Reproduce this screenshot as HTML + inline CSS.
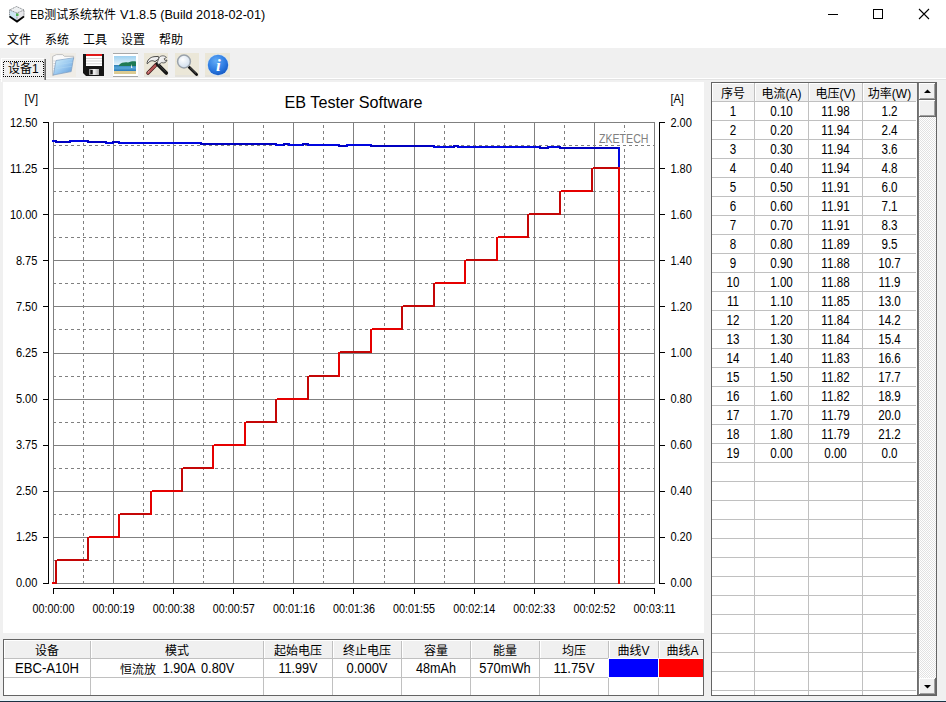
<!DOCTYPE html>
<html><head><meta charset="utf-8"><title>EB测试系统软件</title>
<style>html,body{margin:0;padding:0;width:946px;height:702px;overflow:hidden;background:#f0f0f0}svg{display:block}text{white-space:pre}</style>
</head><body>
<svg width="946" height="702" viewBox="0 0 946 702"><rect x="0" y="0" width="946" height="702" fill="#f0f0f0" />
<rect x="0" y="0" width="946" height="48" fill="#ffffff" />
<text y="19" font-size="12.3" fill="#000" font-family="Liberation Sans, Noto Sans CJK SC, sans-serif" xml:space="preserve"><tspan x="30.2" textLength="14" lengthAdjust="spacingAndGlyphs">EB</tspan><tspan x="44.2" font-size="12.2" textLength="71.8" lengthAdjust="spacingAndGlyphs">测试系统软件</tspan><tspan x="120" textLength="145.2" lengthAdjust="spacingAndGlyphs">V1.8.5 (Build 2018-02-01)</tspan></text>
<rect x="828" y="14" width="10" height="1" fill="#000" />
<rect x="873.5" y="9.5" width="9" height="9" fill="none" stroke="#000" stroke-width="1"/>
<path d="M919,9 L929,19 M929,9 L919,19" stroke="#000" stroke-width="1.1" fill="none"/>
<g>
<path d="M16.5,6.5 L24,10 L17,13 L9.5,10 Z" fill="#eef0f2"/>
<path d="M9.5,10 L17,13 L17,21.5 L9.5,17 Z" fill="#cde6f2"/>
<path d="M17,13 L24,10 L24,17 L17,21.5 Z" fill="#e6e6ea"/>
<rect x="16" y="13.5" width="2.5" height="2.5" fill="#44cc44"/>
<path d="M16.5,6.5 L24,10 L24,17 M9.5,17 L9.5,10 L16.5,6.5 M9.5,10 L17,13 L24,10 M17,13 L17,21" stroke="#707478" stroke-width="0.8" fill="none" stroke-dasharray="1.2,0.6"/>
<path d="M9.6,16.6 L17,21.6 L23.9,16.6" stroke="#000" stroke-width="1.8" fill="none"/>
</g>
<text x="7" y="44" font-size="12" text-anchor="start" fill="#000" font-family="Liberation Sans, Noto Sans CJK SC, sans-serif" >文件</text>
<text x="45" y="44" font-size="12" text-anchor="start" fill="#000" font-family="Liberation Sans, Noto Sans CJK SC, sans-serif" >系统</text>
<text x="83" y="44" font-size="12" text-anchor="start" fill="#000" font-family="Liberation Sans, Noto Sans CJK SC, sans-serif" >工具</text>
<text x="121" y="44" font-size="12" text-anchor="start" fill="#000" font-family="Liberation Sans, Noto Sans CJK SC, sans-serif" >设置</text>
<text x="159" y="44" font-size="12" text-anchor="start" fill="#000" font-family="Liberation Sans, Noto Sans CJK SC, sans-serif" >帮助</text>
<rect x="0" y="78" width="946" height="1" fill="#ffffff" />
<rect x="0" y="79" width="946" height="1" fill="#e3e3e3" />
<rect x="1" y="58" width="44" height="24" fill="#f0f0f0" />
<rect x="1" y="58" width="43" height="1" fill="#ffffff" />
<rect x="1" y="58" width="1" height="24" fill="#ffffff" />
<rect x="44" y="59" width="1" height="21" fill="#a0a0a0" />
<rect x="45" y="59" width="1" height="21" fill="#696969" />
<path d="M3,62h1v1h-1z M3,64h1v1h-1z M3,66h1v1h-1z M3,68h1v1h-1z M3,70h1v1h-1z M3,72h1v1h-1z M3,74h1v1h-1z M3,76h1v1h-1z M4,61h1v1h-1z M5,76h1v1h-1z M6,61h1v1h-1z M7,76h1v1h-1z M8,61h1v1h-1z M9,76h1v1h-1z M10,61h1v1h-1z M11,76h1v1h-1z M12,61h1v1h-1z M13,76h1v1h-1z M14,61h1v1h-1z M15,76h1v1h-1z M16,61h1v1h-1z M17,76h1v1h-1z M18,61h1v1h-1z M19,76h1v1h-1z M20,61h1v1h-1z M21,76h1v1h-1z M22,61h1v1h-1z M23,76h1v1h-1z M24,61h1v1h-1z M25,76h1v1h-1z M26,61h1v1h-1z M27,76h1v1h-1z M28,61h1v1h-1z M29,76h1v1h-1z M30,61h1v1h-1z M31,76h1v1h-1z M32,61h1v1h-1z M33,76h1v1h-1z M34,61h1v1h-1z M35,76h1v1h-1z M36,61h1v1h-1z M37,76h1v1h-1z M38,61h1v1h-1z M39,76h1v1h-1z M40,61h1v1h-1z M41,76h1v1h-1z M42,61h1v1h-1z M43,62h1v1h-1z M43,64h1v1h-1z M43,66h1v1h-1z M43,68h1v1h-1z M43,70h1v1h-1z M43,72h1v1h-1z M43,74h1v1h-1z M43,76h1v1h-1z" fill="#000"/>
<text x="8" y="73" font-size="12" text-anchor="start" fill="#000" font-family="Liberation Sans, Noto Sans CJK SC, sans-serif" >设备1</text>
<defs>
<linearGradient id="fold" x1="0" y1="0" x2="1" y2="1"><stop offset="0" stop-color="#d4f2fb"/><stop offset="0.5" stop-color="#9ccaf0"/><stop offset="1" stop-color="#5c98d8"/></linearGradient>
<linearGradient id="sky" x1="0" y1="0" x2="0" y2="1"><stop offset="0" stop-color="#9dd0f0"/><stop offset="1" stop-color="#e6f3fa"/></linearGradient>
<linearGradient id="sea" x1="0" y1="0" x2="0" y2="1"><stop offset="0" stop-color="#2f7fb8"/><stop offset="0.5" stop-color="#58a8d8"/><stop offset="1" stop-color="#2a78b8"/></linearGradient>
<linearGradient id="shut" x1="0" y1="0" x2="1" y2="0"><stop offset="0" stop-color="#8a8a8a"/><stop offset="0.5" stop-color="#f4f4f4"/><stop offset="1" stop-color="#a8a8a8"/></linearGradient>
<radialGradient id="lens" cx="0.4" cy="0.35" r="0.7"><stop offset="0" stop-color="#ffffff"/><stop offset="1" stop-color="#cddcec"/></radialGradient>
<radialGradient id="info" cx="0.4" cy="0.3" r="0.8"><stop offset="0" stop-color="#62acf6"/><stop offset="0.6" stop-color="#2a78e0"/><stop offset="1" stop-color="#1050b8"/></radialGradient>
<linearGradient id="steel" x1="0" y1="0" x2="1" y2="1"><stop offset="0" stop-color="#ffffff"/><stop offset="0.6" stop-color="#e8e8e8"/><stop offset="1" stop-color="#a8a8a8"/></linearGradient>
</defs>
<!-- folder -->
<rect x="50" y="53" width="26" height="24" fill="#efece6"/>
<path d="M52.6,56.5 L56.5,54.6 L62.5,54.6 L64.5,56.3 L73.6,56.3 L73.6,59 L53.2,75.6 L52.6,75.6 Z" fill="#fafafa" stroke="#b4b4b4" stroke-width="0.8"/>
<path d="M53.4,61 L55.6,61 M53.4,63.5 L55.4,63.5 M53.4,66 L55.2,66 M53.4,68.5 L55,68.5 M53.4,71 L54.8,71" stroke="#c4c4c4" stroke-width="0.7"/>
<path d="M56,60.5 L73.6,57.8 L71.2,71.6 L53.4,75 Z" fill="url(#fold)" stroke="#7c9cc0" stroke-width="0.7"/>
<path d="M60,60.5 L73,58.6 M58,64.5 L72.4,62.4 M57,68.5 L71.8,66.3" stroke="#b8dcf4" stroke-width="0.6" opacity="0.7"/>
<!-- floppy -->
<path d="M83,54 L104,54 L104,76 L86,76 L83,73 Z" fill="#161616"/>
<rect x="86" y="54" width="16" height="2" fill="#e01818"/>
<rect x="86" y="56" width="16" height="10" fill="#ffffff"/>
<rect x="86" y="58" width="16" height="1" fill="#d4d4d4"/>
<rect x="86" y="60.5" width="16" height="1" fill="#d4d4d4"/>
<rect x="86" y="63.3" width="16" height="1" fill="#d4d4d4"/>
<rect x="89" y="69" width="10" height="6" fill="url(#shut)"/>
<rect x="90.3" y="70" width="2.4" height="4.2" fill="#111"/>
<!-- picture -->
<rect x="113" y="53" width="25" height="1" fill="#a8a8a8"/>
<rect x="113" y="54" width="25" height="22" fill="#ffffff"/>
<rect x="113" y="76" width="25" height="1" fill="#a8a8a8"/>
<rect x="114" y="56" width="22" height="9" fill="url(#sky)"/>
<rect x="114" y="65" width="22" height="6" fill="url(#sea)"/>
<path d="M119,65 C121,62.5 125,62 128,62.5 C131,61.5 133,61 136,61.5 L136,66 L119,66 Z" fill="#1f7a54"/>
<rect x="114" y="71" width="22" height="3" fill="#dccb92"/>
<path d="M131,64 L131,68 L132.5,68 Z" fill="#f4f4f4"/>
<!-- tools -->
<rect x="144" y="53" width="24" height="22" fill="#ebe7d8"/>
<rect x="144" y="75" width="24" height="2" fill="#e4e2dc"/>
<path d="M148,73 L156.5,64.3" stroke="#3a1a1a" stroke-width="3.6" stroke-linecap="round"/>
<path d="M148,73 L156.5,64.3" stroke="#b45454" stroke-width="2.4" stroke-linecap="round"/>
<path d="M148.2,72.2 L149.4,71" stroke="#f0d0d0" stroke-width="1"/>
<path d="M166.3,73 L157.3,64" stroke="#151515" stroke-width="3.6" stroke-linecap="round"/>
<path d="M165.5,71.8 L158,64.3" stroke="#505050" stroke-width="0.8"/>
<path d="M147,63.5 C147.3,60 150,57.3 154,56.7 L158.3,56.4 L159.3,58.6 L157,60.2 L155,61.6 C152,59.8 149.5,61 147.6,63.6 Z" fill="url(#steel)" stroke="#222" stroke-width="0.8"/>
<path d="M159.3,57.2 C161,55.4 164.6,55.3 166.5,57.4 L164.1,58.8 L165,60.4 L167,60 C166.6,62.5 164,63.6 161.6,62.6 L158.6,64.6 L157.2,62.8 Z" fill="url(#steel)" stroke="#333" stroke-width="0.7"/>
<!-- magnifier -->
<rect x="175" y="53" width="24" height="22" fill="#ebe7d8"/>
<rect x="175" y="75" width="24" height="2" fill="#e4e2dc"/>
<path d="M189.2,67.2 L196.6,74.4" stroke="#111" stroke-width="2.8" stroke-linecap="round"/>
<path d="M190,67.6 L196,73.4" stroke="#707070" stroke-width="0.7"/>
<circle cx="184" cy="61.5" r="6.4" fill="url(#lens)" stroke="#9aa2aa" stroke-width="1.5"/>
<!-- info -->
<rect x="205" y="53" width="25" height="22" fill="#ebe7d8"/>
<rect x="205" y="75" width="25" height="2" fill="#e4e2dc"/>
<circle cx="218" cy="65" r="10.8" fill="#d4e4f4"/>
<circle cx="218" cy="65" r="10.2" fill="url(#info)"/>
<text x="218.3" y="71.3" font-size="17" font-weight="bold" font-style="italic" fill="#ffffff" text-anchor="middle" font-family="Liberation Serif, serif">i</text>

<rect x="3" y="82" width="701" height="551" fill="#ffffff" />
<path d="M83.5,584 L83.5,122" stroke="#808080" stroke-width="1" stroke-dasharray="3,3" fill="none"/>
<path d="M143.5,584 L143.5,122" stroke="#808080" stroke-width="1" stroke-dasharray="3,3" fill="none"/>
<path d="M203.5,584 L203.5,122" stroke="#808080" stroke-width="1" stroke-dasharray="3,3" fill="none"/>
<path d="M263.5,584 L263.5,122" stroke="#808080" stroke-width="1" stroke-dasharray="3,3" fill="none"/>
<path d="M323.5,584 L323.5,122" stroke="#808080" stroke-width="1" stroke-dasharray="3,3" fill="none"/>
<path d="M384.5,584 L384.5,122" stroke="#808080" stroke-width="1" stroke-dasharray="3,3" fill="none"/>
<path d="M444.5,584 L444.5,122" stroke="#808080" stroke-width="1" stroke-dasharray="3,3" fill="none"/>
<path d="M504.5,584 L504.5,122" stroke="#808080" stroke-width="1" stroke-dasharray="3,3" fill="none"/>
<path d="M564.5,584 L564.5,122" stroke="#808080" stroke-width="1" stroke-dasharray="3,3" fill="none"/>
<path d="M624.5,584 L624.5,122" stroke="#808080" stroke-width="1" stroke-dasharray="3,3" fill="none"/>
<path d="M53,145.5 L655,145.5" stroke="#808080" stroke-width="1" stroke-dasharray="3,3" fill="none"/>
<path d="M53,191.5 L655,191.5" stroke="#808080" stroke-width="1" stroke-dasharray="3,3" fill="none"/>
<path d="M53,237.5 L655,237.5" stroke="#808080" stroke-width="1" stroke-dasharray="3,3" fill="none"/>
<path d="M53,283.5 L655,283.5" stroke="#808080" stroke-width="1" stroke-dasharray="3,3" fill="none"/>
<path d="M53,329.5 L655,329.5" stroke="#808080" stroke-width="1" stroke-dasharray="3,3" fill="none"/>
<path d="M53,376.5 L655,376.5" stroke="#808080" stroke-width="1" stroke-dasharray="3,3" fill="none"/>
<path d="M53,422.5 L655,422.5" stroke="#808080" stroke-width="1" stroke-dasharray="3,3" fill="none"/>
<path d="M53,468.5 L655,468.5" stroke="#808080" stroke-width="1" stroke-dasharray="3,3" fill="none"/>
<path d="M53,514.5 L655,514.5" stroke="#808080" stroke-width="1" stroke-dasharray="3,3" fill="none"/>
<path d="M53,560.5 L655,560.5" stroke="#808080" stroke-width="1" stroke-dasharray="3,3" fill="none"/>
<rect x="53" y="122" width="1" height="462" fill="#808080" />
<rect x="113" y="122" width="1" height="462" fill="#808080" />
<rect x="173" y="122" width="1" height="462" fill="#808080" />
<rect x="233" y="122" width="1" height="462" fill="#808080" />
<rect x="293" y="122" width="1" height="462" fill="#808080" />
<rect x="353" y="122" width="1" height="462" fill="#808080" />
<rect x="414" y="122" width="1" height="462" fill="#808080" />
<rect x="474" y="122" width="1" height="462" fill="#808080" />
<rect x="534" y="122" width="1" height="462" fill="#808080" />
<rect x="594" y="122" width="1" height="462" fill="#808080" />
<rect x="654" y="122" width="1" height="462" fill="#808080" />
<rect x="53" y="122" width="602" height="1" fill="#808080" />
<rect x="53" y="168" width="602" height="1" fill="#808080" />
<rect x="53" y="214" width="602" height="1" fill="#808080" />
<rect x="53" y="260" width="602" height="1" fill="#808080" />
<rect x="53" y="306" width="602" height="1" fill="#808080" />
<rect x="53" y="353" width="602" height="1" fill="#808080" />
<rect x="53" y="399" width="602" height="1" fill="#808080" />
<rect x="53" y="445" width="602" height="1" fill="#808080" />
<rect x="53" y="491" width="602" height="1" fill="#808080" />
<rect x="53" y="537" width="602" height="1" fill="#808080" />
<rect x="53" y="583" width="602" height="1" fill="#808080" />
<rect x="597" y="132" width="54" height="13" fill="#ffffff" />
<text x="599" y="143" font-size="12.2" text-anchor="start" fill="#808080" font-family="Liberation Sans, Arial, sans-serif" textLength="49.5" lengthAdjust="spacingAndGlyphs">ZKETECH</text>
<rect x="48" y="122" width="1" height="462" fill="#000" />
<rect x="659" y="122" width="1" height="462" fill="#000" />
<rect x="53" y="588" width="602" height="1" fill="#000" />
<rect x="43" y="122" width="6" height="1" fill="#000" />
<rect x="659" y="122" width="6" height="1" fill="#000" />
<rect x="43" y="168" width="6" height="1" fill="#000" />
<rect x="659" y="168" width="6" height="1" fill="#000" />
<rect x="43" y="214" width="6" height="1" fill="#000" />
<rect x="659" y="214" width="6" height="1" fill="#000" />
<rect x="43" y="260" width="6" height="1" fill="#000" />
<rect x="659" y="260" width="6" height="1" fill="#000" />
<rect x="43" y="306" width="6" height="1" fill="#000" />
<rect x="659" y="306" width="6" height="1" fill="#000" />
<rect x="43" y="352" width="6" height="1" fill="#000" />
<rect x="659" y="352" width="6" height="1" fill="#000" />
<rect x="43" y="399" width="6" height="1" fill="#000" />
<rect x="659" y="399" width="6" height="1" fill="#000" />
<rect x="43" y="445" width="6" height="1" fill="#000" />
<rect x="659" y="445" width="6" height="1" fill="#000" />
<rect x="43" y="491" width="6" height="1" fill="#000" />
<rect x="659" y="491" width="6" height="1" fill="#000" />
<rect x="43" y="537" width="6" height="1" fill="#000" />
<rect x="659" y="537" width="6" height="1" fill="#000" />
<rect x="43" y="583" width="6" height="1" fill="#000" />
<rect x="659" y="583" width="6" height="1" fill="#000" />
<rect x="53" y="588" width="1" height="6" fill="#000" />
<rect x="113" y="588" width="1" height="6" fill="#000" />
<rect x="173" y="588" width="1" height="6" fill="#000" />
<rect x="233" y="588" width="1" height="6" fill="#000" />
<rect x="293" y="588" width="1" height="6" fill="#000" />
<rect x="353" y="588" width="1" height="6" fill="#000" />
<rect x="414" y="588" width="1" height="6" fill="#000" />
<rect x="474" y="588" width="1" height="6" fill="#000" />
<rect x="534" y="588" width="1" height="6" fill="#000" />
<rect x="594" y="588" width="1" height="6" fill="#000" />
<rect x="654" y="588" width="1" height="6" fill="#000" />
<text x="37.4" y="127" font-size="12.6" text-anchor="end" fill="#000" font-family="Liberation Sans, Arial, sans-serif" textLength="27.5" lengthAdjust="spacingAndGlyphs">12.50</text>
<text x="670.4" y="127" font-size="12.6" text-anchor="start" fill="#000" font-family="Liberation Sans, Arial, sans-serif" textLength="21.5" lengthAdjust="spacingAndGlyphs">2.00</text>
<text x="37.4" y="173" font-size="12.6" text-anchor="end" fill="#000" font-family="Liberation Sans, Arial, sans-serif" textLength="27.5" lengthAdjust="spacingAndGlyphs">11.25</text>
<text x="670.4" y="173" font-size="12.6" text-anchor="start" fill="#000" font-family="Liberation Sans, Arial, sans-serif" textLength="21.5" lengthAdjust="spacingAndGlyphs">1.80</text>
<text x="37.4" y="219" font-size="12.6" text-anchor="end" fill="#000" font-family="Liberation Sans, Arial, sans-serif" textLength="27.5" lengthAdjust="spacingAndGlyphs">10.00</text>
<text x="670.4" y="219" font-size="12.6" text-anchor="start" fill="#000" font-family="Liberation Sans, Arial, sans-serif" textLength="21.5" lengthAdjust="spacingAndGlyphs">1.60</text>
<text x="37.4" y="265" font-size="12.6" text-anchor="end" fill="#000" font-family="Liberation Sans, Arial, sans-serif" textLength="21.5" lengthAdjust="spacingAndGlyphs">8.75</text>
<text x="670.4" y="265" font-size="12.6" text-anchor="start" fill="#000" font-family="Liberation Sans, Arial, sans-serif" textLength="21.5" lengthAdjust="spacingAndGlyphs">1.40</text>
<text x="37.4" y="311" font-size="12.6" text-anchor="end" fill="#000" font-family="Liberation Sans, Arial, sans-serif" textLength="21.5" lengthAdjust="spacingAndGlyphs">7.50</text>
<text x="670.4" y="311" font-size="12.6" text-anchor="start" fill="#000" font-family="Liberation Sans, Arial, sans-serif" textLength="21.5" lengthAdjust="spacingAndGlyphs">1.20</text>
<text x="37.4" y="357" font-size="12.6" text-anchor="end" fill="#000" font-family="Liberation Sans, Arial, sans-serif" textLength="21.5" lengthAdjust="spacingAndGlyphs">6.25</text>
<text x="670.4" y="357" font-size="12.6" text-anchor="start" fill="#000" font-family="Liberation Sans, Arial, sans-serif" textLength="21.5" lengthAdjust="spacingAndGlyphs">1.00</text>
<text x="37.4" y="403" font-size="12.6" text-anchor="end" fill="#000" font-family="Liberation Sans, Arial, sans-serif" textLength="21.5" lengthAdjust="spacingAndGlyphs">5.00</text>
<text x="670.4" y="403" font-size="12.6" text-anchor="start" fill="#000" font-family="Liberation Sans, Arial, sans-serif" textLength="21.5" lengthAdjust="spacingAndGlyphs">0.80</text>
<text x="37.4" y="449" font-size="12.6" text-anchor="end" fill="#000" font-family="Liberation Sans, Arial, sans-serif" textLength="21.5" lengthAdjust="spacingAndGlyphs">3.75</text>
<text x="670.4" y="449" font-size="12.6" text-anchor="start" fill="#000" font-family="Liberation Sans, Arial, sans-serif" textLength="21.5" lengthAdjust="spacingAndGlyphs">0.60</text>
<text x="37.4" y="495" font-size="12.6" text-anchor="end" fill="#000" font-family="Liberation Sans, Arial, sans-serif" textLength="21.5" lengthAdjust="spacingAndGlyphs">2.50</text>
<text x="670.4" y="495" font-size="12.6" text-anchor="start" fill="#000" font-family="Liberation Sans, Arial, sans-serif" textLength="21.5" lengthAdjust="spacingAndGlyphs">0.40</text>
<text x="37.4" y="541" font-size="12.6" text-anchor="end" fill="#000" font-family="Liberation Sans, Arial, sans-serif" textLength="21.5" lengthAdjust="spacingAndGlyphs">1.25</text>
<text x="670.4" y="541" font-size="12.6" text-anchor="start" fill="#000" font-family="Liberation Sans, Arial, sans-serif" textLength="21.5" lengthAdjust="spacingAndGlyphs">0.20</text>
<text x="37.4" y="587" font-size="12.6" text-anchor="end" fill="#000" font-family="Liberation Sans, Arial, sans-serif" textLength="21.5" lengthAdjust="spacingAndGlyphs">0.00</text>
<text x="670.4" y="587" font-size="12.6" text-anchor="start" fill="#000" font-family="Liberation Sans, Arial, sans-serif" textLength="21.5" lengthAdjust="spacingAndGlyphs">0.00</text>
<text x="53.5" y="613" font-size="12.6" text-anchor="middle" fill="#000" font-family="Liberation Sans, Arial, sans-serif" textLength="42" lengthAdjust="spacingAndGlyphs">00:00:00</text>
<text x="113.6" y="613" font-size="12.6" text-anchor="middle" fill="#000" font-family="Liberation Sans, Arial, sans-serif" textLength="42" lengthAdjust="spacingAndGlyphs">00:00:19</text>
<text x="173.7" y="613" font-size="12.6" text-anchor="middle" fill="#000" font-family="Liberation Sans, Arial, sans-serif" textLength="42" lengthAdjust="spacingAndGlyphs">00:00:38</text>
<text x="233.8" y="613" font-size="12.6" text-anchor="middle" fill="#000" font-family="Liberation Sans, Arial, sans-serif" textLength="42" lengthAdjust="spacingAndGlyphs">00:00:57</text>
<text x="293.9" y="613" font-size="12.6" text-anchor="middle" fill="#000" font-family="Liberation Sans, Arial, sans-serif" textLength="42" lengthAdjust="spacingAndGlyphs">00:01:16</text>
<text x="354.0" y="613" font-size="12.6" text-anchor="middle" fill="#000" font-family="Liberation Sans, Arial, sans-serif" textLength="42" lengthAdjust="spacingAndGlyphs">00:01:36</text>
<text x="414.1" y="613" font-size="12.6" text-anchor="middle" fill="#000" font-family="Liberation Sans, Arial, sans-serif" textLength="42" lengthAdjust="spacingAndGlyphs">00:01:55</text>
<text x="474.2" y="613" font-size="12.6" text-anchor="middle" fill="#000" font-family="Liberation Sans, Arial, sans-serif" textLength="42" lengthAdjust="spacingAndGlyphs">00:02:14</text>
<text x="534.3" y="613" font-size="12.6" text-anchor="middle" fill="#000" font-family="Liberation Sans, Arial, sans-serif" textLength="42" lengthAdjust="spacingAndGlyphs">00:02:33</text>
<text x="594.4" y="613" font-size="12.6" text-anchor="middle" fill="#000" font-family="Liberation Sans, Arial, sans-serif" textLength="42" lengthAdjust="spacingAndGlyphs">00:02:52</text>
<text x="654.5" y="613" font-size="12.6" text-anchor="middle" fill="#000" font-family="Liberation Sans, Arial, sans-serif" textLength="42" lengthAdjust="spacingAndGlyphs">00:03:11</text>
<text x="24.6" y="103" font-size="12.6" text-anchor="start" fill="#000" font-family="Liberation Sans, Arial, sans-serif" textLength="13.5" lengthAdjust="spacingAndGlyphs">[V]</text>
<text x="670.4" y="103" font-size="12.6" text-anchor="start" fill="#000" font-family="Liberation Sans, Arial, sans-serif" textLength="13.5" lengthAdjust="spacingAndGlyphs">[A]</text>
<text x="353.6" y="108" font-size="16.4" text-anchor="middle" fill="#000" font-family="Liberation Sans, Arial, sans-serif" textLength="138" lengthAdjust="spacingAndGlyphs">EB Tester Software</text>
<rect x="52" y="140" width="5" height="2" fill="#0006e0"/>
<rect x="55" y="140" width="2" height="3" fill="#0000c0"/>
<rect x="55" y="141" width="16" height="2" fill="#0000c0"/>
<rect x="69" y="140" width="2" height="3" fill="#0000c0"/>
<rect x="69" y="140" width="20" height="2" fill="#0006e0"/>
<rect x="87" y="140" width="2" height="3" fill="#0000c0"/>
<rect x="87" y="141" width="20" height="2" fill="#0000c0"/>
<rect x="105" y="141" width="2" height="3" fill="#0000c0"/>
<rect x="105" y="142" width="9" height="2" fill="#0006e0"/>
<rect x="112" y="141" width="2" height="3" fill="#0006e0"/>
<rect x="112" y="141" width="8" height="2" fill="#0000c0"/>
<rect x="118" y="141" width="2" height="3" fill="#0006e0"/>
<rect x="118" y="142" width="33" height="2" fill="#0006e0"/>
<rect x="149" y="142" width="53" height="2" fill="#0006e0"/>
<rect x="200" y="142" width="2" height="3" fill="#0006e0"/>
<rect x="200" y="143" width="77" height="2" fill="#0000c0"/>
<rect x="275" y="143" width="2" height="3" fill="#0000c0"/>
<rect x="275" y="144" width="10" height="2" fill="#0006e0"/>
<rect x="283" y="143" width="2" height="3" fill="#0000c0"/>
<rect x="283" y="143" width="7" height="2" fill="#0000c0"/>
<rect x="288" y="143" width="2" height="3" fill="#0006e0"/>
<rect x="288" y="144" width="16" height="2" fill="#0006e0"/>
<rect x="302" y="143" width="2" height="3" fill="#0006e0"/>
<rect x="302" y="143" width="7" height="2" fill="#0000c0"/>
<rect x="307" y="143" width="2" height="3" fill="#0000c0"/>
<rect x="307" y="144" width="33" height="2" fill="#0006e0"/>
<rect x="338" y="144" width="2" height="3" fill="#0006e0"/>
<rect x="338" y="145" width="10" height="2" fill="#0000c0"/>
<rect x="346" y="144" width="2" height="3" fill="#0006e0"/>
<rect x="346" y="144" width="26" height="2" fill="#0006e0"/>
<rect x="370" y="144" width="2" height="3" fill="#0006e0"/>
<rect x="370" y="145" width="65" height="2" fill="#0000c0"/>
<rect x="433" y="145" width="2" height="3" fill="#0000c0"/>
<rect x="433" y="146" width="22" height="2" fill="#0006e0"/>
<rect x="453" y="145" width="2" height="3" fill="#0000c0"/>
<rect x="453" y="145" width="6" height="2" fill="#0000c0"/>
<rect x="457" y="145" width="2" height="3" fill="#0000c0"/>
<rect x="457" y="146" width="84" height="2" fill="#0006e0"/>
<rect x="539" y="146" width="2" height="3" fill="#0000c0"/>
<rect x="539" y="147" width="10" height="2" fill="#0000c0"/>
<rect x="547" y="146" width="2" height="3" fill="#0000c0"/>
<rect x="547" y="146" width="14" height="2" fill="#0006e0"/>
<rect x="559" y="146" width="2" height="3" fill="#0000c0"/>
<rect x="559" y="147" width="61" height="2" fill="#0000c0"/>
<rect x="618" y="147" width="2" height="437" fill="#0006e0"/>
<rect x="52" y="582" width="5" height="2" fill="#e60000"/>
<rect x="55" y="560" width="2" height="24" fill="#c40606"/>
<rect x="57" y="559" width="32" height="2" fill="#c40606"/>
<rect x="87" y="537" width="2" height="24" fill="#c40606"/>
<rect x="89" y="536" width="31" height="2" fill="#e60000"/>
<rect x="118" y="514" width="2" height="24" fill="#e60000"/>
<rect x="120" y="513" width="32" height="2" fill="#c40606"/>
<rect x="150" y="491" width="2" height="24" fill="#e60000"/>
<rect x="152" y="490" width="31" height="2" fill="#e60000"/>
<rect x="181" y="468" width="2" height="24" fill="#c40606"/>
<rect x="183" y="467" width="31" height="2" fill="#c40606"/>
<rect x="212" y="445" width="2" height="24" fill="#e60000"/>
<rect x="214" y="444" width="32" height="2" fill="#e60000"/>
<rect x="244" y="422" width="2" height="24" fill="#e60000"/>
<rect x="246" y="421" width="31" height="2" fill="#c40606"/>
<rect x="275" y="399" width="2" height="24" fill="#c40606"/>
<rect x="277" y="398" width="32" height="2" fill="#e60000"/>
<rect x="307" y="376" width="2" height="24" fill="#c40606"/>
<rect x="309" y="375" width="31" height="2" fill="#c40606"/>
<rect x="338" y="352" width="2" height="25" fill="#e60000"/>
<rect x="340" y="351" width="32" height="2" fill="#c40606"/>
<rect x="370" y="329" width="2" height="24" fill="#e60000"/>
<rect x="372" y="328" width="31" height="2" fill="#e60000"/>
<rect x="401" y="306" width="2" height="24" fill="#c40606"/>
<rect x="403" y="305" width="32" height="2" fill="#c40606"/>
<rect x="433" y="283" width="2" height="24" fill="#c40606"/>
<rect x="435" y="282" width="31" height="2" fill="#e60000"/>
<rect x="464" y="260" width="2" height="24" fill="#e60000"/>
<rect x="466" y="259" width="32" height="2" fill="#c40606"/>
<rect x="496" y="237" width="2" height="24" fill="#e60000"/>
<rect x="498" y="236" width="31" height="2" fill="#e60000"/>
<rect x="527" y="214" width="2" height="24" fill="#c40606"/>
<rect x="529" y="213" width="32" height="2" fill="#c40606"/>
<rect x="559" y="191" width="2" height="24" fill="#c40606"/>
<rect x="561" y="190" width="32" height="2" fill="#e60000"/>
<rect x="591" y="168" width="2" height="24" fill="#c40606"/>
<rect x="593" y="167" width="27" height="2" fill="#c40606"/>
<rect x="618" y="167" width="2" height="417" fill="#e60000"/>
<rect x="3" y="639" width="700" height="56" fill="#ffffff" />
<rect x="4" y="640" width="699" height="18" fill="#f0f0f0" />
<rect x="90" y="640" width="1" height="55" fill="#c0c0c0" />
<rect x="91" y="640" width="1" height="18" fill="#ffffff" />
<rect x="263" y="640" width="1" height="55" fill="#c0c0c0" />
<rect x="264" y="640" width="1" height="18" fill="#ffffff" />
<rect x="332" y="640" width="1" height="55" fill="#c0c0c0" />
<rect x="333" y="640" width="1" height="18" fill="#ffffff" />
<rect x="401" y="640" width="1" height="55" fill="#c0c0c0" />
<rect x="402" y="640" width="1" height="18" fill="#ffffff" />
<rect x="470" y="640" width="1" height="55" fill="#c0c0c0" />
<rect x="471" y="640" width="1" height="18" fill="#ffffff" />
<rect x="539" y="640" width="1" height="55" fill="#c0c0c0" />
<rect x="540" y="640" width="1" height="18" fill="#ffffff" />
<rect x="608" y="640" width="1" height="55" fill="#c0c0c0" />
<rect x="609" y="640" width="1" height="18" fill="#ffffff" />
<rect x="658" y="640" width="1" height="55" fill="#c0c0c0" />
<rect x="659" y="640" width="1" height="18" fill="#ffffff" />
<rect x="4" y="640" width="699" height="1" fill="#ffffff" />
<rect x="4" y="640" width="1" height="18" fill="#ffffff" />
<rect x="4" y="658" width="699" height="1" fill="#c0c0c0" />
<rect x="4" y="677" width="699" height="1" fill="#c0c0c0" />
<rect x="608" y="658" width="95" height="20" fill="#fbfbff" />
<rect x="609" y="659" width="49" height="18" fill="#0000ff" />
<rect x="659" y="659" width="44" height="18" fill="#ff0000" />
<rect x="3.5" y="639.5" width="700" height="56" fill="none" stroke="#646464" stroke-width="1"/>
<text x="47.0" y="655" font-size="12" text-anchor="middle" fill="#000" font-family="Liberation Sans, Noto Sans CJK SC, sans-serif" >设备</text>
<text x="47.0" y="673" font-size="14" text-anchor="middle" fill="#000" font-family="Liberation Sans, Noto Sans CJK SC, sans-serif" textLength="64" lengthAdjust="spacingAndGlyphs">EBC-A10H</text>
<text x="177.0" y="655" font-size="12" text-anchor="middle" fill="#000" font-family="Liberation Sans, Noto Sans CJK SC, sans-serif" >模式</text>
<text x="298.0" y="655" font-size="12" text-anchor="middle" fill="#000" font-family="Liberation Sans, Noto Sans CJK SC, sans-serif" >起始电压</text>
<text x="298.0" y="673" font-size="14" text-anchor="middle" fill="#000" font-family="Liberation Sans, Noto Sans CJK SC, sans-serif" textLength="39" lengthAdjust="spacingAndGlyphs">11.99V</text>
<text x="367.0" y="655" font-size="12" text-anchor="middle" fill="#000" font-family="Liberation Sans, Noto Sans CJK SC, sans-serif" >终止电压</text>
<text x="367.0" y="673" font-size="14" text-anchor="middle" fill="#000" font-family="Liberation Sans, Noto Sans CJK SC, sans-serif" textLength="41" lengthAdjust="spacingAndGlyphs">0.000V</text>
<text x="436.0" y="655" font-size="12" text-anchor="middle" fill="#000" font-family="Liberation Sans, Noto Sans CJK SC, sans-serif" >容量</text>
<text x="436.0" y="673" font-size="14" text-anchor="middle" fill="#000" font-family="Liberation Sans, Noto Sans CJK SC, sans-serif" textLength="40" lengthAdjust="spacingAndGlyphs">48mAh</text>
<text x="505.0" y="655" font-size="12" text-anchor="middle" fill="#000" font-family="Liberation Sans, Noto Sans CJK SC, sans-serif" >能量</text>
<text x="505.0" y="673" font-size="14" text-anchor="middle" fill="#000" font-family="Liberation Sans, Noto Sans CJK SC, sans-serif" textLength="51.5" lengthAdjust="spacingAndGlyphs">570mWh</text>
<text x="574.0" y="655" font-size="12" text-anchor="middle" fill="#000" font-family="Liberation Sans, Noto Sans CJK SC, sans-serif" >均压</text>
<text x="574.0" y="673" font-size="14" text-anchor="middle" fill="#000" font-family="Liberation Sans, Noto Sans CJK SC, sans-serif" textLength="41" lengthAdjust="spacingAndGlyphs">11.75V</text>
<text x="633.5" y="655" font-size="12" text-anchor="middle" fill="#000" font-family="Liberation Sans, Noto Sans CJK SC, sans-serif" >曲线V</text>
<text x="682.5" y="655" font-size="12" text-anchor="middle" fill="#000" font-family="Liberation Sans, Noto Sans CJK SC, sans-serif" >曲线A</text>
<text x="120" y="674" font-size="12" text-anchor="start" fill="#000" font-family="Liberation Sans, Noto Sans CJK SC, sans-serif" >恒流放</text>
<text x="162.8" y="673" font-size="14" text-anchor="start" fill="#000" font-family="Liberation Sans, Arial, sans-serif" textLength="32.8" lengthAdjust="spacingAndGlyphs">1.90A</text>
<text x="201" y="673" font-size="14" text-anchor="start" fill="#000" font-family="Liberation Sans, Arial, sans-serif" textLength="33.4" lengthAdjust="spacingAndGlyphs">0.80V</text>
<rect x="711" y="82" width="226" height="614" fill="#ffffff" />
<rect x="712" y="83" width="205" height="18" fill="#f0f0f0" />
<rect x="712" y="83" width="204" height="1" fill="#ffffff" />
<rect x="712" y="83" width="1" height="18" fill="#ffffff" />
<rect x="754" y="83" width="1" height="612" fill="#c0c0c0" />
<rect x="755" y="83" width="1" height="18" fill="#ffffff" />
<rect x="808" y="83" width="1" height="612" fill="#c0c0c0" />
<rect x="809" y="83" width="1" height="18" fill="#ffffff" />
<rect x="862" y="83" width="1" height="612" fill="#c0c0c0" />
<rect x="863" y="83" width="1" height="18" fill="#ffffff" />
<rect x="712" y="101" width="204" height="1" fill="#c0c0c0" />
<rect x="712" y="120" width="204" height="1" fill="#c0c0c0" />
<rect x="712" y="139" width="204" height="1" fill="#c0c0c0" />
<rect x="712" y="158" width="204" height="1" fill="#c0c0c0" />
<rect x="712" y="177" width="204" height="1" fill="#c0c0c0" />
<rect x="712" y="196" width="204" height="1" fill="#c0c0c0" />
<rect x="712" y="215" width="204" height="1" fill="#c0c0c0" />
<rect x="712" y="234" width="204" height="1" fill="#c0c0c0" />
<rect x="712" y="253" width="204" height="1" fill="#c0c0c0" />
<rect x="712" y="272" width="204" height="1" fill="#c0c0c0" />
<rect x="712" y="291" width="204" height="1" fill="#c0c0c0" />
<rect x="712" y="310" width="204" height="1" fill="#c0c0c0" />
<rect x="712" y="329" width="204" height="1" fill="#c0c0c0" />
<rect x="712" y="348" width="204" height="1" fill="#c0c0c0" />
<rect x="712" y="367" width="204" height="1" fill="#c0c0c0" />
<rect x="712" y="386" width="204" height="1" fill="#c0c0c0" />
<rect x="712" y="405" width="204" height="1" fill="#c0c0c0" />
<rect x="712" y="424" width="204" height="1" fill="#c0c0c0" />
<rect x="712" y="443" width="204" height="1" fill="#c0c0c0" />
<rect x="712" y="462" width="204" height="1" fill="#c0c0c0" />
<rect x="712" y="481" width="204" height="1" fill="#c0c0c0" />
<rect x="712" y="500" width="204" height="1" fill="#c0c0c0" />
<rect x="712" y="519" width="204" height="1" fill="#c0c0c0" />
<rect x="712" y="538" width="204" height="1" fill="#c0c0c0" />
<rect x="712" y="557" width="204" height="1" fill="#c0c0c0" />
<rect x="712" y="576" width="204" height="1" fill="#c0c0c0" />
<rect x="712" y="595" width="204" height="1" fill="#c0c0c0" />
<rect x="712" y="614" width="204" height="1" fill="#c0c0c0" />
<rect x="712" y="633" width="204" height="1" fill="#c0c0c0" />
<rect x="712" y="652" width="204" height="1" fill="#c0c0c0" />
<rect x="712" y="671" width="204" height="1" fill="#c0c0c0" />
<rect x="712" y="690" width="204" height="1" fill="#c0c0c0" />
<rect x="917" y="83" width="1" height="612" fill="#6e6e6e" />
<rect x="918" y="83" width="1" height="612" fill="#7a7a7a" />
<text x="733.0" y="98" font-size="12" text-anchor="middle" fill="#000" font-family="Liberation Sans, Noto Sans CJK SC, sans-serif" >序号</text>
<text x="733.0" y="116" font-size="14" text-anchor="middle" fill="#000" font-family="Liberation Sans, Arial, sans-serif" textLength="6.47" lengthAdjust="spacingAndGlyphs">1</text>
<text x="733.0" y="135" font-size="14" text-anchor="middle" fill="#000" font-family="Liberation Sans, Arial, sans-serif" textLength="6.47" lengthAdjust="spacingAndGlyphs">2</text>
<text x="733.0" y="154" font-size="14" text-anchor="middle" fill="#000" font-family="Liberation Sans, Arial, sans-serif" textLength="6.47" lengthAdjust="spacingAndGlyphs">3</text>
<text x="733.0" y="173" font-size="14" text-anchor="middle" fill="#000" font-family="Liberation Sans, Arial, sans-serif" textLength="6.47" lengthAdjust="spacingAndGlyphs">4</text>
<text x="733.0" y="192" font-size="14" text-anchor="middle" fill="#000" font-family="Liberation Sans, Arial, sans-serif" textLength="6.47" lengthAdjust="spacingAndGlyphs">5</text>
<text x="733.0" y="211" font-size="14" text-anchor="middle" fill="#000" font-family="Liberation Sans, Arial, sans-serif" textLength="6.47" lengthAdjust="spacingAndGlyphs">6</text>
<text x="733.0" y="230" font-size="14" text-anchor="middle" fill="#000" font-family="Liberation Sans, Arial, sans-serif" textLength="6.47" lengthAdjust="spacingAndGlyphs">7</text>
<text x="733.0" y="249" font-size="14" text-anchor="middle" fill="#000" font-family="Liberation Sans, Arial, sans-serif" textLength="6.47" lengthAdjust="spacingAndGlyphs">8</text>
<text x="733.0" y="268" font-size="14" text-anchor="middle" fill="#000" font-family="Liberation Sans, Arial, sans-serif" textLength="6.47" lengthAdjust="spacingAndGlyphs">9</text>
<text x="733.0" y="287" font-size="14" text-anchor="middle" fill="#000" font-family="Liberation Sans, Arial, sans-serif" textLength="12.95" lengthAdjust="spacingAndGlyphs">10</text>
<text x="733.0" y="306" font-size="14" text-anchor="middle" fill="#000" font-family="Liberation Sans, Arial, sans-serif" textLength="12.08" lengthAdjust="spacingAndGlyphs">11</text>
<text x="733.0" y="325" font-size="14" text-anchor="middle" fill="#000" font-family="Liberation Sans, Arial, sans-serif" textLength="12.95" lengthAdjust="spacingAndGlyphs">12</text>
<text x="733.0" y="344" font-size="14" text-anchor="middle" fill="#000" font-family="Liberation Sans, Arial, sans-serif" textLength="12.95" lengthAdjust="spacingAndGlyphs">13</text>
<text x="733.0" y="363" font-size="14" text-anchor="middle" fill="#000" font-family="Liberation Sans, Arial, sans-serif" textLength="12.95" lengthAdjust="spacingAndGlyphs">14</text>
<text x="733.0" y="382" font-size="14" text-anchor="middle" fill="#000" font-family="Liberation Sans, Arial, sans-serif" textLength="12.95" lengthAdjust="spacingAndGlyphs">15</text>
<text x="733.0" y="401" font-size="14" text-anchor="middle" fill="#000" font-family="Liberation Sans, Arial, sans-serif" textLength="12.95" lengthAdjust="spacingAndGlyphs">16</text>
<text x="733.0" y="420" font-size="14" text-anchor="middle" fill="#000" font-family="Liberation Sans, Arial, sans-serif" textLength="12.95" lengthAdjust="spacingAndGlyphs">17</text>
<text x="733.0" y="439" font-size="14" text-anchor="middle" fill="#000" font-family="Liberation Sans, Arial, sans-serif" textLength="12.95" lengthAdjust="spacingAndGlyphs">18</text>
<text x="733.0" y="458" font-size="14" text-anchor="middle" fill="#000" font-family="Liberation Sans, Arial, sans-serif" textLength="12.95" lengthAdjust="spacingAndGlyphs">19</text>
<text x="781.5" y="98" font-size="12" text-anchor="middle" fill="#000" font-family="Liberation Sans, Noto Sans CJK SC, sans-serif" >电流(A)</text>
<text x="781.5" y="116" font-size="14" text-anchor="middle" fill="#000" font-family="Liberation Sans, Arial, sans-serif" textLength="22.65" lengthAdjust="spacingAndGlyphs">0.10</text>
<text x="781.5" y="135" font-size="14" text-anchor="middle" fill="#000" font-family="Liberation Sans, Arial, sans-serif" textLength="22.65" lengthAdjust="spacingAndGlyphs">0.20</text>
<text x="781.5" y="154" font-size="14" text-anchor="middle" fill="#000" font-family="Liberation Sans, Arial, sans-serif" textLength="22.65" lengthAdjust="spacingAndGlyphs">0.30</text>
<text x="781.5" y="173" font-size="14" text-anchor="middle" fill="#000" font-family="Liberation Sans, Arial, sans-serif" textLength="22.65" lengthAdjust="spacingAndGlyphs">0.40</text>
<text x="781.5" y="192" font-size="14" text-anchor="middle" fill="#000" font-family="Liberation Sans, Arial, sans-serif" textLength="22.65" lengthAdjust="spacingAndGlyphs">0.50</text>
<text x="781.5" y="211" font-size="14" text-anchor="middle" fill="#000" font-family="Liberation Sans, Arial, sans-serif" textLength="22.65" lengthAdjust="spacingAndGlyphs">0.60</text>
<text x="781.5" y="230" font-size="14" text-anchor="middle" fill="#000" font-family="Liberation Sans, Arial, sans-serif" textLength="22.65" lengthAdjust="spacingAndGlyphs">0.70</text>
<text x="781.5" y="249" font-size="14" text-anchor="middle" fill="#000" font-family="Liberation Sans, Arial, sans-serif" textLength="22.65" lengthAdjust="spacingAndGlyphs">0.80</text>
<text x="781.5" y="268" font-size="14" text-anchor="middle" fill="#000" font-family="Liberation Sans, Arial, sans-serif" textLength="22.65" lengthAdjust="spacingAndGlyphs">0.90</text>
<text x="781.5" y="287" font-size="14" text-anchor="middle" fill="#000" font-family="Liberation Sans, Arial, sans-serif" textLength="22.65" lengthAdjust="spacingAndGlyphs">1.00</text>
<text x="781.5" y="306" font-size="14" text-anchor="middle" fill="#000" font-family="Liberation Sans, Arial, sans-serif" textLength="22.65" lengthAdjust="spacingAndGlyphs">1.10</text>
<text x="781.5" y="325" font-size="14" text-anchor="middle" fill="#000" font-family="Liberation Sans, Arial, sans-serif" textLength="22.65" lengthAdjust="spacingAndGlyphs">1.20</text>
<text x="781.5" y="344" font-size="14" text-anchor="middle" fill="#000" font-family="Liberation Sans, Arial, sans-serif" textLength="22.65" lengthAdjust="spacingAndGlyphs">1.30</text>
<text x="781.5" y="363" font-size="14" text-anchor="middle" fill="#000" font-family="Liberation Sans, Arial, sans-serif" textLength="22.65" lengthAdjust="spacingAndGlyphs">1.40</text>
<text x="781.5" y="382" font-size="14" text-anchor="middle" fill="#000" font-family="Liberation Sans, Arial, sans-serif" textLength="22.65" lengthAdjust="spacingAndGlyphs">1.50</text>
<text x="781.5" y="401" font-size="14" text-anchor="middle" fill="#000" font-family="Liberation Sans, Arial, sans-serif" textLength="22.65" lengthAdjust="spacingAndGlyphs">1.60</text>
<text x="781.5" y="420" font-size="14" text-anchor="middle" fill="#000" font-family="Liberation Sans, Arial, sans-serif" textLength="22.65" lengthAdjust="spacingAndGlyphs">1.70</text>
<text x="781.5" y="439" font-size="14" text-anchor="middle" fill="#000" font-family="Liberation Sans, Arial, sans-serif" textLength="22.65" lengthAdjust="spacingAndGlyphs">1.80</text>
<text x="781.5" y="458" font-size="14" text-anchor="middle" fill="#000" font-family="Liberation Sans, Arial, sans-serif" textLength="22.65" lengthAdjust="spacingAndGlyphs">0.00</text>
<text x="835.5" y="98" font-size="12" text-anchor="middle" fill="#000" font-family="Liberation Sans, Noto Sans CJK SC, sans-serif" >电压(V)</text>
<text x="835.5" y="116" font-size="14" text-anchor="middle" fill="#000" font-family="Liberation Sans, Arial, sans-serif" textLength="28.26" lengthAdjust="spacingAndGlyphs">11.98</text>
<text x="835.5" y="135" font-size="14" text-anchor="middle" fill="#000" font-family="Liberation Sans, Arial, sans-serif" textLength="28.26" lengthAdjust="spacingAndGlyphs">11.94</text>
<text x="835.5" y="154" font-size="14" text-anchor="middle" fill="#000" font-family="Liberation Sans, Arial, sans-serif" textLength="28.26" lengthAdjust="spacingAndGlyphs">11.94</text>
<text x="835.5" y="173" font-size="14" text-anchor="middle" fill="#000" font-family="Liberation Sans, Arial, sans-serif" textLength="28.26" lengthAdjust="spacingAndGlyphs">11.94</text>
<text x="835.5" y="192" font-size="14" text-anchor="middle" fill="#000" font-family="Liberation Sans, Arial, sans-serif" textLength="28.26" lengthAdjust="spacingAndGlyphs">11.91</text>
<text x="835.5" y="211" font-size="14" text-anchor="middle" fill="#000" font-family="Liberation Sans, Arial, sans-serif" textLength="28.26" lengthAdjust="spacingAndGlyphs">11.91</text>
<text x="835.5" y="230" font-size="14" text-anchor="middle" fill="#000" font-family="Liberation Sans, Arial, sans-serif" textLength="28.26" lengthAdjust="spacingAndGlyphs">11.91</text>
<text x="835.5" y="249" font-size="14" text-anchor="middle" fill="#000" font-family="Liberation Sans, Arial, sans-serif" textLength="28.26" lengthAdjust="spacingAndGlyphs">11.89</text>
<text x="835.5" y="268" font-size="14" text-anchor="middle" fill="#000" font-family="Liberation Sans, Arial, sans-serif" textLength="28.26" lengthAdjust="spacingAndGlyphs">11.88</text>
<text x="835.5" y="287" font-size="14" text-anchor="middle" fill="#000" font-family="Liberation Sans, Arial, sans-serif" textLength="28.26" lengthAdjust="spacingAndGlyphs">11.88</text>
<text x="835.5" y="306" font-size="14" text-anchor="middle" fill="#000" font-family="Liberation Sans, Arial, sans-serif" textLength="28.26" lengthAdjust="spacingAndGlyphs">11.85</text>
<text x="835.5" y="325" font-size="14" text-anchor="middle" fill="#000" font-family="Liberation Sans, Arial, sans-serif" textLength="28.26" lengthAdjust="spacingAndGlyphs">11.84</text>
<text x="835.5" y="344" font-size="14" text-anchor="middle" fill="#000" font-family="Liberation Sans, Arial, sans-serif" textLength="28.26" lengthAdjust="spacingAndGlyphs">11.84</text>
<text x="835.5" y="363" font-size="14" text-anchor="middle" fill="#000" font-family="Liberation Sans, Arial, sans-serif" textLength="28.26" lengthAdjust="spacingAndGlyphs">11.83</text>
<text x="835.5" y="382" font-size="14" text-anchor="middle" fill="#000" font-family="Liberation Sans, Arial, sans-serif" textLength="28.26" lengthAdjust="spacingAndGlyphs">11.82</text>
<text x="835.5" y="401" font-size="14" text-anchor="middle" fill="#000" font-family="Liberation Sans, Arial, sans-serif" textLength="28.26" lengthAdjust="spacingAndGlyphs">11.82</text>
<text x="835.5" y="420" font-size="14" text-anchor="middle" fill="#000" font-family="Liberation Sans, Arial, sans-serif" textLength="28.26" lengthAdjust="spacingAndGlyphs">11.79</text>
<text x="835.5" y="439" font-size="14" text-anchor="middle" fill="#000" font-family="Liberation Sans, Arial, sans-serif" textLength="28.26" lengthAdjust="spacingAndGlyphs">11.79</text>
<text x="835.5" y="458" font-size="14" text-anchor="middle" fill="#000" font-family="Liberation Sans, Arial, sans-serif" textLength="22.65" lengthAdjust="spacingAndGlyphs">0.00</text>
<text x="889.5" y="98" font-size="12" text-anchor="middle" fill="#000" font-family="Liberation Sans, Noto Sans CJK SC, sans-serif" >功率(W)</text>
<text x="889.5" y="116" font-size="14" text-anchor="middle" fill="#000" font-family="Liberation Sans, Arial, sans-serif" textLength="16.18" lengthAdjust="spacingAndGlyphs">1.2</text>
<text x="889.5" y="135" font-size="14" text-anchor="middle" fill="#000" font-family="Liberation Sans, Arial, sans-serif" textLength="16.18" lengthAdjust="spacingAndGlyphs">2.4</text>
<text x="889.5" y="154" font-size="14" text-anchor="middle" fill="#000" font-family="Liberation Sans, Arial, sans-serif" textLength="16.18" lengthAdjust="spacingAndGlyphs">3.6</text>
<text x="889.5" y="173" font-size="14" text-anchor="middle" fill="#000" font-family="Liberation Sans, Arial, sans-serif" textLength="16.18" lengthAdjust="spacingAndGlyphs">4.8</text>
<text x="889.5" y="192" font-size="14" text-anchor="middle" fill="#000" font-family="Liberation Sans, Arial, sans-serif" textLength="16.18" lengthAdjust="spacingAndGlyphs">6.0</text>
<text x="889.5" y="211" font-size="14" text-anchor="middle" fill="#000" font-family="Liberation Sans, Arial, sans-serif" textLength="16.18" lengthAdjust="spacingAndGlyphs">7.1</text>
<text x="889.5" y="230" font-size="14" text-anchor="middle" fill="#000" font-family="Liberation Sans, Arial, sans-serif" textLength="16.18" lengthAdjust="spacingAndGlyphs">8.3</text>
<text x="889.5" y="249" font-size="14" text-anchor="middle" fill="#000" font-family="Liberation Sans, Arial, sans-serif" textLength="16.18" lengthAdjust="spacingAndGlyphs">9.5</text>
<text x="889.5" y="268" font-size="14" text-anchor="middle" fill="#000" font-family="Liberation Sans, Arial, sans-serif" textLength="22.65" lengthAdjust="spacingAndGlyphs">10.7</text>
<text x="889.5" y="287" font-size="14" text-anchor="middle" fill="#000" font-family="Liberation Sans, Arial, sans-serif" textLength="21.79" lengthAdjust="spacingAndGlyphs">11.9</text>
<text x="889.5" y="306" font-size="14" text-anchor="middle" fill="#000" font-family="Liberation Sans, Arial, sans-serif" textLength="22.65" lengthAdjust="spacingAndGlyphs">13.0</text>
<text x="889.5" y="325" font-size="14" text-anchor="middle" fill="#000" font-family="Liberation Sans, Arial, sans-serif" textLength="22.65" lengthAdjust="spacingAndGlyphs">14.2</text>
<text x="889.5" y="344" font-size="14" text-anchor="middle" fill="#000" font-family="Liberation Sans, Arial, sans-serif" textLength="22.65" lengthAdjust="spacingAndGlyphs">15.4</text>
<text x="889.5" y="363" font-size="14" text-anchor="middle" fill="#000" font-family="Liberation Sans, Arial, sans-serif" textLength="22.65" lengthAdjust="spacingAndGlyphs">16.6</text>
<text x="889.5" y="382" font-size="14" text-anchor="middle" fill="#000" font-family="Liberation Sans, Arial, sans-serif" textLength="22.65" lengthAdjust="spacingAndGlyphs">17.7</text>
<text x="889.5" y="401" font-size="14" text-anchor="middle" fill="#000" font-family="Liberation Sans, Arial, sans-serif" textLength="22.65" lengthAdjust="spacingAndGlyphs">18.9</text>
<text x="889.5" y="420" font-size="14" text-anchor="middle" fill="#000" font-family="Liberation Sans, Arial, sans-serif" textLength="22.65" lengthAdjust="spacingAndGlyphs">20.0</text>
<text x="889.5" y="439" font-size="14" text-anchor="middle" fill="#000" font-family="Liberation Sans, Arial, sans-serif" textLength="22.65" lengthAdjust="spacingAndGlyphs">21.2</text>
<text x="889.5" y="458" font-size="14" text-anchor="middle" fill="#000" font-family="Liberation Sans, Arial, sans-serif" textLength="16.18" lengthAdjust="spacingAndGlyphs">0.0</text>
<defs><pattern id="dith" x="0" y="0" width="2" height="2" patternUnits="userSpaceOnUse"><rect width="2" height="2" fill="#ffffff"/><rect width="1" height="1" fill="#e2e2e2"/><rect x="1" y="1" width="1" height="1" fill="#e2e2e2"/></pattern></defs>
<rect x="919" y="83" width="17" height="612" fill="url(#dith)"/>
<rect x="919" y="83" width="17" height="17" fill="#f0f0f0"/>
<rect x="919" y="83" width="16" height="1" fill="#ffffff"/><rect x="919" y="83" width="1" height="16" fill="#ffffff"/>
<rect x="919" y="99" width="17" height="1" fill="#696969"/><rect x="935" y="83" width="1" height="17" fill="#696969"/>
<rect x="920" y="98" width="15" height="1" fill="#a0a0a0"/><rect x="934" y="84" width="1" height="15" fill="#a0a0a0"/>
<path d="M924,93 L931,93 L927.5,89.5 Z" fill="#000"/>
<rect x="919" y="100" width="17" height="17" fill="#f0f0f0"/>
<rect x="919" y="100" width="16" height="1" fill="#ffffff"/><rect x="919" y="100" width="1" height="16" fill="#ffffff"/>
<rect x="919" y="116" width="17" height="1" fill="#696969"/><rect x="935" y="100" width="1" height="17" fill="#696969"/>
<rect x="920" y="115" width="15" height="1" fill="#a0a0a0"/><rect x="934" y="101" width="1" height="15" fill="#a0a0a0"/>
<rect x="919" y="678" width="17" height="17" fill="#f0f0f0"/>
<rect x="919" y="678" width="16" height="1" fill="#ffffff"/><rect x="919" y="678" width="1" height="16" fill="#ffffff"/>
<rect x="919" y="694" width="17" height="1" fill="#696969"/><rect x="935" y="678" width="1" height="17" fill="#696969"/>
<rect x="920" y="693" width="15" height="1" fill="#a0a0a0"/><rect x="934" y="679" width="1" height="15" fill="#a0a0a0"/>
<path d="M924,685 L931,685 L927.5,688.5 Z" fill="#000"/>

<rect x="711.5" y="82.5" width="225" height="613" fill="none" stroke="#646464" stroke-width="1"/>
<rect x="0" y="700" width="946" height="1" fill="#e6f6fc" />
<rect x="0" y="701" width="946" height="1" fill="#1c3242" /></svg>
</body></html>
